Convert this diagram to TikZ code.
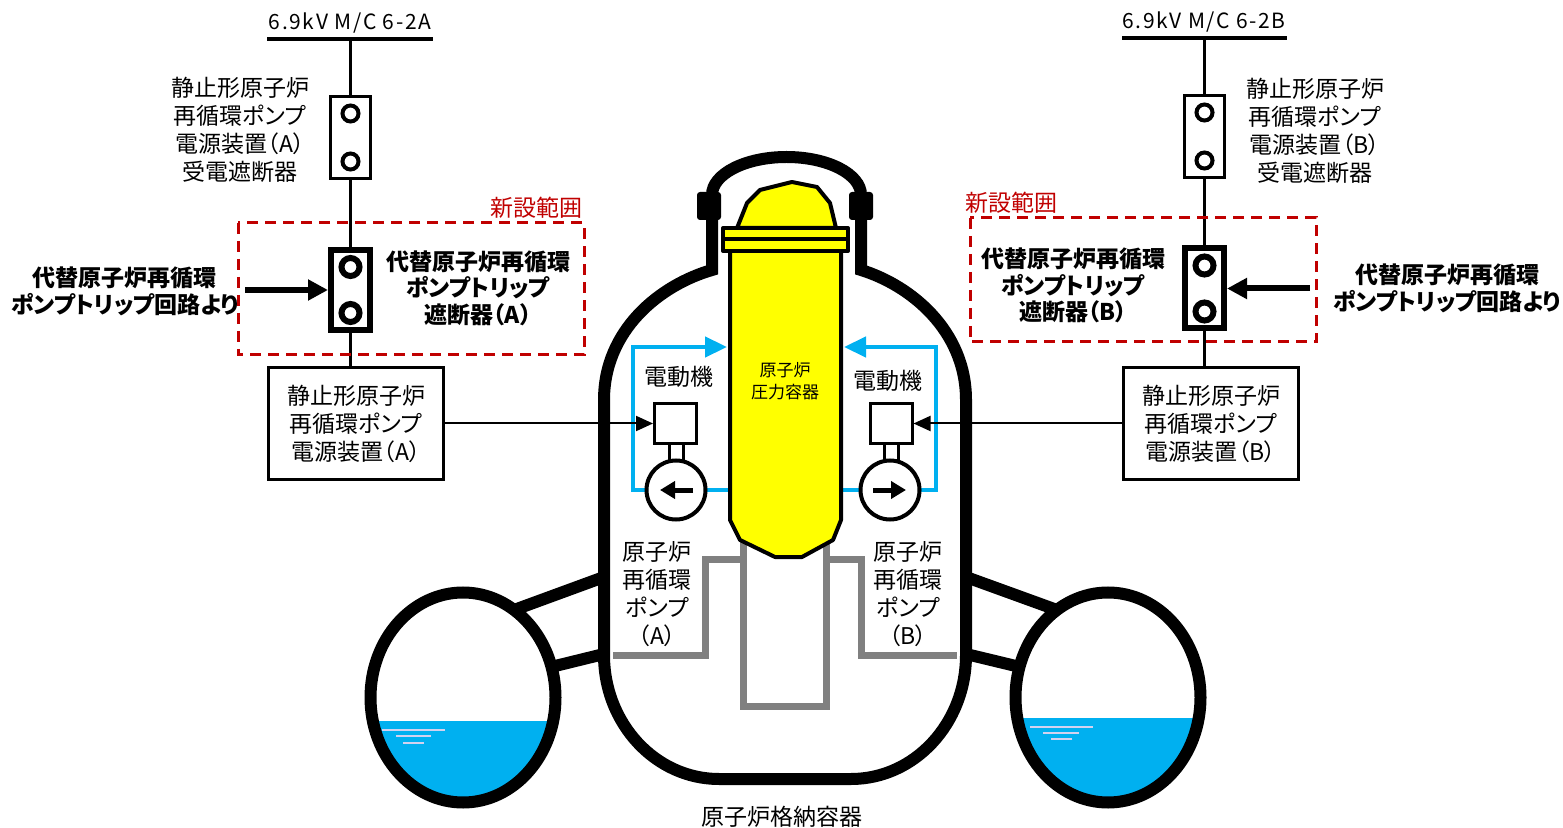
\documentclass[tikz,border=0pt]{standalone}
\usepackage{fontspec}
\setmainfont{Noto Sans CJK JP}[RawFeature=+palt]
\usetikzlibrary{arrows.meta}

\definecolor{newred}{RGB}{192,0,0}
\definecolor{loopblue}{RGB}{0,176,240}
\definecolor{pipegray}{RGB}{128,128,128}
\definecolor{rpvyellow}{RGB}{255,255,0}
\definecolor{ripple}{RGB}{210,210,240}

\begin{document}
\begin{tikzpicture}[x=0.5pt, y=-0.5pt,
    lbl/.style={font=\fontsize{11.5}{14}\selectfont, align=center, inner sep=0pt},
    lblb/.style={font=\fontsize{11.5}{13.25}\selectfont\bfseries, align=center, inner sep=0pt},
    buslbl/.style={font=\fontsize{10.5}{12}\selectfont\addfontfeature{LetterSpace=8}, inner sep=0pt},
    wire/.style={line width=1.5pt},
    cb/.style={draw, line width=1.5pt, fill=white, minimum width=20pt, minimum height=41pt, inner sep=0pt},
    cbnew/.style={cb, line width=3pt, minimum width=19.5pt, minimum height=40pt},
    psu/.style={draw, line width=1.5pt, fill=white, minimum width=87.5pt, minimum height=56pt, align=center,
        font=\fontsize{11.5}{14}\selectfont, inner sep=0pt},
    motor/.style={draw, line width=1.5pt, fill=white, minimum width=21pt, minimum height=20pt, inner sep=0pt},
    pump/.style={circle, draw, line width=2pt, fill=white, minimum size=29.5pt, inner sep=0pt},
    sig/.style={line width=1pt, -{Triangle[length=8.5pt, width=7.5pt]}},
    trip/.style={line width=3pt, -{Triangle[length=10pt, width=10pt]}},
    newarea/.style={draw=newred, line width=1.5pt, dash pattern=on 5.5pt off 3.5pt},
    dw/.style={line width=6pt},
    rpv/.style={draw, fill=rpvyellow, line width=2pt, line join=round},
    loopline/.style={draw=loopblue, line width=2.25pt, -{Triangle[length=11pt, width=10pt]}},
    plr/.style={draw=pipegray, line width=3.5pt},
    water/.style={fill=loopblue},
    wave/.style={draw=ripple, line width=1.3pt}]

    \useasboundingbox (0,0) rectangle (1563,828);

    % vent pipes to the suppression chambers
    \draw[dw] (604,577) -- (514,610);
    \draw[dw] (604,654) -- (551,667);
    \draw[dw] (966,577) -- (1057,610);
    \draw[dw] (966,654) -- (1020,667);

    % suppression chambers with water
    \begin{scope}
        \clip (463,697.5) ellipse [x radius=92.5, y radius=105];
        \fill[water] (360,721) rectangle (570,810);
        \draw[wave] (382,730) -- (445,730) (396,736) -- (431,736) (403,743) -- (424,743);
    \end{scope}
    \draw[dw] (463,697.5) ellipse [x radius=92.5, y radius=105];
    \begin{scope}
        \clip (1108,697.5) ellipse [x radius=92.5, y radius=105];
        \fill[water] (1000,718) rectangle (1215,810);
        \draw[wave] (1030,727) -- (1093,727) (1043,733) -- (1079,733) (1051,739) -- (1072,739);
    \end{scope}
    \draw[dw] (1108,697.5) ellipse [x radius=92.5, y radius=105];

    % primary containment vessel
    \draw[dw] (712,270) -- (712,195) arc[start angle=180, end angle=360, x radius=74.5, y radius=38]
        -- (861,270) .. controls (910,285) and (966,330) .. (966,400)
        -- (966,655) arc[start angle=0, end angle=90, x radius=115, y radius=124]
        -- (719,779) arc[start angle=90, end angle=180, x radius=115, y radius=124]
        -- (604,400) .. controls (604,330) and (660,285) .. (712,270) -- cycle;
    \fill[rounded corners=1.5pt] (697,192) rectangle (721,220);
    \fill[rounded corners=1.5pt] (849,192) rectangle (873,220);
    \node[lbl] (pcvlbl) at (781.5,817) {原子炉格納容器};

    % recirculation piping and pedestal
    \draw[plr] (613,655) -- (705,655) -- (705,559) -- (743,559);
    \draw[plr] (743,540) -- (743,706) -- (826.5,706) -- (826.5,540);
    \draw[plr] (826.5,559) -- (861.5,559) -- (861.5,655) -- (957,655);

    % recirculation loops
    \draw[loopline] (735,490) -- (633,490) -- (633,347) -- (727,347);
    \draw[loopline] (836,490) -- (936,490) -- (936,347) -- (844,347);

    % reactor pressure vessel
    \draw[rpv] (737,228) -- (747,203) -- (760,190) -- (792,182) -- (817,187) -- (830,203) -- (836,228) -- cycle;
    \draw[rpv] (730,251) -- (730,520) -- (740,540) -- (775,557) -- (802,557) -- (833,540) -- (841,520) -- (841,251) -- cycle;
    \draw[rpv] (723,228) rectangle (848,239.5);
    \draw[rpv] (723,239.5) rectangle (848,251);
    \node[font=\fontsize{8.5}{11}\selectfont, align=center, inner sep=0pt] (rpvlbl) at (785,381) {原子炉\\圧力容器};

    % pumps and motors
    \draw[line width=1.5pt, fill=white] (669,444) rectangle (683,462);
    \draw[line width=1.5pt, fill=white] (884.5,444) rectangle (898.5,462);
    \node[motor] (motA) at (675.5,423.5) {};
    \node[motor] (motB) at (891,423.5) {};
    \node[pump] (pmpA) at (676,490) {};
    \node[pump] (pmpB) at (890,490) {};
    \draw[line width=2.5pt, -{Triangle[length=7.5pt, width=8.5pt]}] ([xshift=8.5pt]pmpA.center) -- ([xshift=-8pt]pmpA.center);
    \draw[line width=2.5pt, -{Triangle[length=7.5pt, width=8.5pt]}] ([xshift=-8.5pt]pmpB.center) -- ([xshift=8pt]pmpB.center);
    \node[lbl] (motAlbl) at (679,377) {電動機};
    \node[lbl] (motBlbl) at (888,381) {電動機};
    \node[lbl] (pmpAlbl) at (657,594) {原子炉\\再循環\\ポンプ\\（A）};
    \node[lbl] (pmpBlbl) at (908,594) {原子炉\\再循環\\ポンプ\\（B）};

    % power supply A
    \coordinate (busAl) at (267,39);
    \coordinate (busAr) at (433,39);
    \coordinate (busA) at (350.5,39);
    \draw[line width=2pt] (busAl) -- (busAr);
    \node[buslbl] (busAlbl) at (350,23) {6.9kV M/C 6-2A};
    \node[cb] (cbA1) at (350.5,137.5) {};
    \node[cbnew] (cbA2) at (350.5,290) {};
    \node[psu] (psuA) at (356,423.5) {静止形原子炉\\再循環ポンプ\\電源装置（A）};
    \draw[wire] (busA) -- (cbA1.north);
    \draw[wire] (cbA1.south) -- (cbA2.north);
    \draw[wire] (cbA2.south) -- (cbA2.south |- psuA.north);
    \draw[line width=2pt] ([yshift=12pt]cbA1.center) circle (8) ([yshift=-12pt]cbA1.center) circle (8);
    \draw[line width=3pt] ([yshift=11.5pt]cbA2.center) circle (9) ([yshift=-11.5pt]cbA2.center) circle (9);
    \node[lbl] (cbA1lbl) at (240,130) {静止形原子炉\\再循環ポンプ\\電源装置（A）\\受電遮断器};
    \draw[newarea] (238,223) rectangle (584,355);
    \node[lbl, text=newred, anchor=east] (newA) at (583,208) {新設範囲};
    \node[lblb] (cbA2lbl) at (478,288) {代替原子炉再循環\\ポンプトリップ\\遮断器（A）};
    \node[lblb, font=\fontsize{11.5}{13.5}\selectfont\bfseries] (trpAlbl) at (125,291.5) {代替原子炉再循環\\ポンプトリップ回路より};
    \coordinate (trpA) at (245,290);
    \draw[trip] (trpA) -- (cbA2.west);
    \draw[sig] (psuA.east) -- (motA.west);

    % power supply B
    \coordinate (busBl) at (1122,38);
    \coordinate (busBr) at (1287,38);
    \coordinate (busB) at (1204.5,38);
    \draw[line width=2pt] (busBl) -- (busBr);
    \node[buslbl] (busBlbl) at (1204,22) {6.9kV M/C 6-2B};
    \node[cb] (cbB1) at (1204.5,136.5) {};
    \node[cbnew] (cbB2) at (1204.5,288.5) {};
    \node[psu] (psuB) at (1211,423.5) {静止形原子炉\\再循環ポンプ\\電源装置（B）};
    \draw[wire] (busB) -- (cbB1.north);
    \draw[wire] (cbB1.south) -- (cbB2.north);
    \draw[wire] (cbB2.south) -- (cbB2.south |- psuB.north);
    \draw[line width=2pt] ([yshift=12pt]cbB1.center) circle (8) ([yshift=-12pt]cbB1.center) circle (8);
    \draw[line width=3pt] ([yshift=11.5pt]cbB2.center) circle (9) ([yshift=-11.5pt]cbB2.center) circle (9);
    \node[lbl] (cbB1lbl) at (1315,131) {静止形原子炉\\再循環ポンプ\\電源装置（B）\\受電遮断器};
    \draw[newarea] (970,218) rectangle (1316,342);
    \node[lbl, text=newred, anchor=west] (newB) at (965,203) {新設範囲};
    \node[lblb] (cbB2lbl) at (1073,285.5) {代替原子炉再循環\\ポンプトリップ\\遮断器（B）};
    \node[lblb, font=\fontsize{11.5}{13.5}\selectfont\bfseries] (trpBlbl) at (1447,288.5) {代替原子炉再循環\\ポンプトリップ回路より};
    \coordinate (trpB) at (1310,288.5);
    \draw[trip] (trpB) -- (cbB2.east);
    \draw[sig] (psuB.west) -- (motB.east);
\end{tikzpicture}
\end{document}
